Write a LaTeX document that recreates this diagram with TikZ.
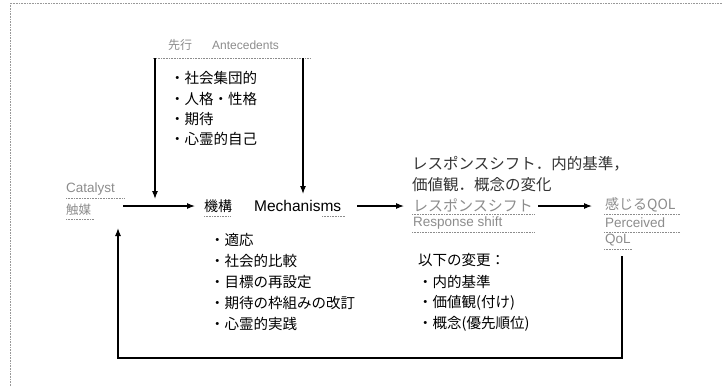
\documentclass[tikz,border=0pt]{standalone}
\usepackage{fontspec}
\setmainfont{Noto Sans CJK JP}
\newfontfamily\latinsans{Liberation Sans}
\usetikzlibrary{arrows.meta}
\tikzset{
  lbl/.style={anchor=west, inner sep=0pt, font=\fontsize{14.5}{15}\selectfont},
  hdr/.style={anchor=west, inner sep=0pt, font=\fontsize{15.5}{16}\selectfont, text=black!80},
  faint/.style={anchor=west, inner sep=0pt, font=\fontsize{13.5}{14}\latinsans\selectfont, text=black!45},
  faintjp/.style={anchor=west, inner sep=0pt, font=\fontsize{14}{14}\selectfont, text=black!45},
  uline/.style={black!45, densely dotted, line width=0.6pt},
  conn/.style={line width=1.1pt},
  arr/.style={conn, -{Latex[length=8pt,width=6pt]}},
  frame/.style={black!40, densely dotted, line width=0.6pt}
}
\begin{document}
\begin{tikzpicture}[x=1pt,y=-1pt]
\useasboundingbox (0,0) rectangle (722,386);
% page frame
\draw[frame] (10,386) -- (10,3) -- (722,3);

% Antecedents
\node[faintjp, font=\fontsize{12}{12}\selectfont] (antejp) at (168,45) {先行};
\node[faint, font=\fontsize{12}{12}\latinsans\selectfont] (anteen) at (212,45) {Antecedents};
\coordinate (ulL) at (153,58);
\coordinate (ulR) at (310,58);
\draw[uline] (ulL) -- (ulR);
\node[lbl] (a1) at (170,78) {・社会集団的};
\node[lbl] (a2) at (170,99) {・人格・性格};
\node[lbl] (a3) at (170,119) {・期待};
\node[lbl] (a4) at (170,139) {・心霊的自己};

% Catalyst
\node[faint] (cat) at (66,189) {Catalyst};
\node[faintjp, font=\fontsize{12.5}{13}\selectfont] (catjp) at (66,210) {触媒};
\draw[uline] (66,198) -- (124,198);
\draw[uline] (66,219) -- (94,219);
\coordinate (catend) at (123,206);
\coordinate (downL) at (155,58);
\coordinate (downLend) at (155,199);
\coordinate (downR) at (303,58);

% Mechanisms
\node[lbl, font=\fontsize{14}{14}\selectfont] (mechjp) at (204,206) {機構};
\node[lbl, font=\fontsize{15.5}{16}\latinsans\selectfont] (mech) at (254,206) {Mechanisms};
\draw[uline] (204,216) -- (230,216);
\draw[uline] (322,216) -- (345,216);
\coordinate (mechin) at (195,206);
\coordinate (mechout) at (357,206);
\coordinate (mechtop) at (303,194);

\node[lbl] (m1) at (210,240) {・適応};
\node[lbl] (m2) at (210,261) {・社会的比較};
\node[lbl] (m3) at (210,282) {・目標の再設定};
\node[lbl] (m4) at (210,303) {・期待の枠組みの改訂};
\node[lbl] (m5) at (210,324) {・心霊的実践};

% Response shift header
\node[hdr] (h1) at (412,164) {レスポンスシフト．内的基準，};
\node[hdr] (h2) at (412,185) {価値観．概念の変化};

% Response shift
\node[faintjp, font=\fontsize{15}{15}\selectfont] (rsjp) at (413,205) {レスポンスシフト};
\node[faint] (rsen) at (413,223) {Response shift};
\draw[uline] (412,214) -- (535,214);
\draw[uline] (412,232) -- (535,232);
\coordinate (rsin) at (404,206);
\coordinate (rsout) at (538,206);

\node[lbl] (r0) at (418,260) {以下の変更：};
\node[lbl] (r1) at (418,282) {・内的基準};
\node[lbl] (r2) at (418,303) {・価値観(付け)};
\node[lbl] (r3) at (418,324) {・概念(優先順位)};

% Perceived QoL
\node[faintjp] (qjp) at (605,205) {感じるQOL};
\node[faint] (qen) at (605,223) {Perceived};
\node[faint] (qen2) at (605,240) {QoL};
\draw[uline] (604,214) -- (680,214);
\draw[uline] (604,232) -- (680,232);
\draw[uline] (604,249) -- (632,249);
\coordinate (qin) at (592,206);
\coordinate (qout) at (622,256);
\coordinate (fbR) at (622,358);
\coordinate (fbL) at (118,358);
\coordinate (fbtip) at (118,228);

% connectors
\draw[arr] (downL) -- (downLend);
\draw[arr] (downR) -- (mechtop);
\draw[arr] (catend) -- (mechin);
\draw[arr] (mechout) -- (rsin);
\draw[arr] (rsout) -- (qin);
\draw[arr] (qout) -- (fbR) -- (fbL) -- (fbtip);
\end{tikzpicture}
\end{document}
